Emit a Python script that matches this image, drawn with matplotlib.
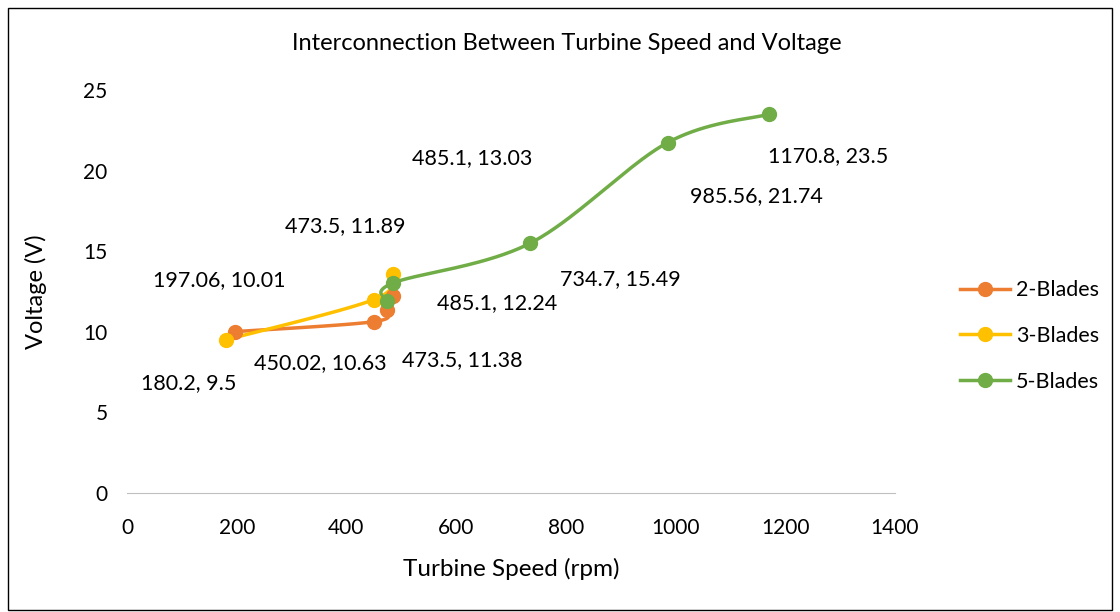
import numpy as np
import matplotlib
matplotlib.use("Agg")
import matplotlib.pyplot as plt
from matplotlib.patches import Rectangle

# Data
x2 = [197.06, 450.02, 473.5, 485.1]
y2 = [10.01, 10.63, 11.38, 12.24]
x3 = [180.2, 450.02, 485.1]
y3 = [9.5, 12.0, 13.6]
x5 = [473.5, 485.1, 734.7, 985.56, 1170.8]
y5 = [11.89, 13.03, 15.49, 21.74, 23.5]
series_names = ["2-Blades", "3-Blades", "5-Blades"]
colors = ["#ED7D31", "#FFC000", "#70AD47"]
xticks = [0, 200, 400, 600, 800, 1000, 1200, 1400]
yticks = [0, 5, 10, 15, 20, 25]
labels = ["485.1, 13.03", "473.5, 11.89", "197.06, 10.01", "485.1, 12.24",
          "734.7, 15.49", "1170.8, 23.5", "985.56, 21.74", "180.2, 9.5",
          "450.02, 10.63", "473.5, 11.38"]
label_px = [(472, 158), (345, 226), (219, 280), (497, 303), (620, 279),
            (828, 156), (756, 196), (189, 383), (320, 363), (462, 360)]

plt.rcParams['font.family'] = ['Lato', 'DejaVu Sans']

W, H = 1120, 612
fig = plt.figure(figsize=(W / 100, H / 100), dpi=100)
ax = fig.add_axes([127 / W, 1 - 493 / H, (895 - 127) / W, (493 - 90) / H])
ax.set_xlim(0, 1400)
ax.set_ylim(0, 25)

sx = 768 / 1400.0
sy = 403 / 25.0


def smooth(xs, ys, n=40):
    P = np.column_stack([np.array(xs) * sx, np.array(ys) * sy])
    out = [P[0]]
    m = len(P)
    for i in range(m - 1):
        p0 = P[i - 1] if i > 0 else P[i]
        p1 = P[i]
        p2 = P[i + 1]
        p3 = P[i + 2] if i + 2 < m else P[i + 1]
        c1 = p1 + (p2 - p0) / 6.0
        c2 = p2 - (p3 - p1) / 6.0
        t = np.linspace(0, 1, n)[1:, None]
        seg = ((1 - t) ** 3) * p1 + 3 * ((1 - t) ** 2) * t * c1 + 3 * (1 - t) * t ** 2 * c2 + t ** 3 * p2
        out.extend(seg)
    out = np.array(out)
    return out[:, 0] / sx, out[:, 1] / sy


for xs, ys, c, name in zip([x2, x3, x5], [y2, y3, y5], colors, series_names):
    cx, cy = smooth(xs, ys)
    ax.plot(cx, cy, color=c, lw=2.5, solid_capstyle='round', zorder=2)
    ax.plot(xs, ys, 'o', color=c, ms=10, zorder=3)
    ax.plot([], [], '-o', color=c, lw=2.5, ms=10, label=name)

for s in ['top', 'right', 'left']:
    ax.spines[s].set_visible(False)
ax.spines['bottom'].set_color('#BFBFBF')
ax.set_xticks(xticks)
ax.set_yticks(yticks)
ax.tick_params(axis='both', length=0, labelsize=15, colors='black')
ax.tick_params(axis='x', pad=18)
ax.tick_params(axis='y', pad=14)

ax.set_xlabel("Turbine Speed (rpm)", fontsize=17.5, labelpad=14)
ax.set_ylabel("Voltage (V)", fontsize=17, labelpad=26)
fig.text(567 / W, 1 - 44 / H, "Interconnection Between Turbine Speed and Voltage",
         ha='center', va='center', fontsize=17)

for t, (px, py) in zip(labels, label_px):
    fig.text(px / W, 1 - py / H, t, ha='center', va='center', fontsize=15.5)

leg = fig.legend(loc='center left', bbox_to_anchor=(960 / W, 1 - 336 / H), frameon=False,
                 fontsize=15.5, handlelength=2.3, labelspacing=1.2, handletextpad=0.3,
                 borderpad=0, borderaxespad=0)

fig.patches.append(Rectangle((8 / W, 2 / H), (1112 - 8) / W, (604 - 2) / H,
                             transform=fig.transFigure, fill=False, edgecolor='black', lw=1))

fig.savefig("out.png", dpi=100)
